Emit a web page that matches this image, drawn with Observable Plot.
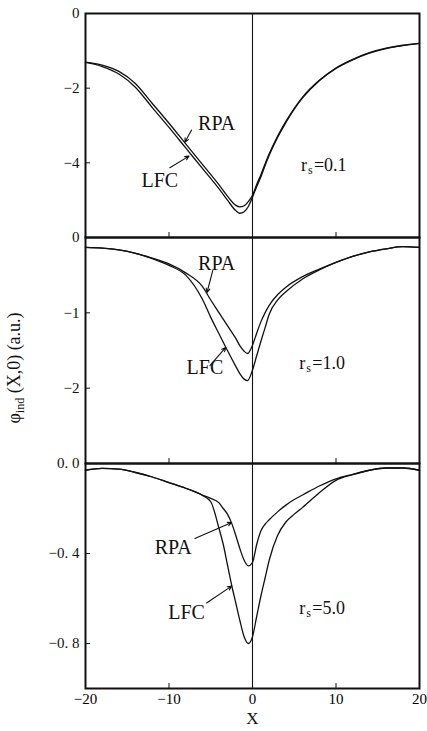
<!DOCTYPE html>
<html><head><meta charset="utf-8">
<script src="https://cdn.jsdelivr.net/npm/d3@7"></script>
<script src="https://cdn.jsdelivr.net/npm/@observablehq/plot@0.6"></script>
<style>
body{margin:0;background:#fff;}
#chart{position:relative;width:427px;height:731px;}
#chart svg{position:absolute;left:0;top:0;overflow:visible;background:transparent;}
#chart svg text{font-family:'Liberation Serif','DejaVu Serif',serif !important;}
</style></head><body><div id="chart"></div>
<script>
// ---------- data ----------
const xTicksInner = [-10, 10];
const xTicksBottom = [-20, -10, 0, 10, 20];

// panel 1 : rs = 0.1
const x1   = [-20,-18,-16,-14,-12,-10,-8,-6,-4,-3,-2,-1.5,-1,-0.5,0,0.5,1,1.5,2,3,4,5,6,8,10,12,14,16,18,20];
const rpa1 = [-1.30,-1.38,-1.55,-1.88,-2.41,-2.94,-3.49,-4.04,-4.59,-4.89,-5.14,-5.18,-5.15,-5.04,-4.87,-4.58,-4.32,-4.03,-3.76,-3.29,-2.89,-2.54,-2.24,-1.79,-1.46,-1.23,-1.05,-0.93,-0.85,-0.80];
const lfc1 = [-1.31,-1.42,-1.62,-1.98,-2.52,-3.05,-3.60,-4.15,-4.70,-5.00,-5.28,-5.35,-5.31,-5.17,-4.92,-4.64,-4.38,-4.08,-3.80,-3.32,-2.92,-2.56,-2.26,-1.80,-1.47,-1.24,-1.06,-0.94,-0.86,-0.80];
const y1Ticks = [0, -2, -4];
const y1Domain = [-6, 0];
const labels1 = [{t:"RPA", x:-4.3, y:-2.95}, {t:"LFC", x:-11.1, y:-4.47}];
const arrows1 = [{x1:-7.3, y1:-3.12, x2:-8.1, y2:-3.45}, {x1:-9.9, y1:-4.13, x2:-7.6, y2:-3.82}];
const rs1 = {x:5.8, y:-4.07, v:"=0.1"};

// panel 2 : rs = 1.0
const x2   = [-20,-18,-16,-14,-12,-10,-8,-6,-5,-4,-3,-2,-1.5,-1,-0.6,0,0.5,1,1.5,2,3,4,6,8,10,12,14,16,18,20];
const rpa2 = [-0.13,-0.14,-0.165,-0.21,-0.275,-0.35,-0.47,-0.65,-0.83,-1.00,-1.17,-1.34,-1.44,-1.51,-1.54,-1.43,-1.27,-1.12,-1.00,-0.90,-0.76,-0.66,-0.52,-0.42,-0.33,-0.25,-0.19,-0.15,-0.12,-0.13];
const lfc2 = [-0.13,-0.14,-0.165,-0.21,-0.28,-0.37,-0.50,-0.82,-1.06,-1.28,-1.50,-1.71,-1.81,-1.88,-1.90,-1.76,-1.57,-1.38,-1.20,-1.02,-0.83,-0.72,-0.55,-0.43,-0.33,-0.25,-0.19,-0.15,-0.12,-0.13];
const y2Ticks = [0, -1, -2];
const y2Domain = [-3, 0];
const labels2 = [{t:"RPA", x:-4.3, y:-0.345}, {t:"LFC", x:-5.7, y:-1.73}];
const arrows2 = [{x1:-4.76, y1:-0.44, x2:-5.45, y2:-0.73}, {x1:-5.1, y1:-1.70, x2:-3.2, y2:-1.46}];
const rs2 = {x:5.6, y:-1.67, v:"=1.0"};

// panel 3 : rs = 5.0
const x3   = [-20,-18,-16,-14,-12,-10,-8,-6,-5,-4,-3.5,-3,-2.5,-2,-1.5,-1,-0.5,0,0.5,1,1.5,2,3,4,5,6,8,10,12,14,16,18,20];
const rpa3 = [-0.03,-0.022,-0.025,-0.04,-0.06,-0.085,-0.11,-0.14,-0.155,-0.175,-0.20,-0.225,-0.265,-0.32,-0.38,-0.43,-0.455,-0.44,-0.36,-0.30,-0.27,-0.25,-0.215,-0.185,-0.16,-0.14,-0.10,-0.068,-0.048,-0.03,-0.02,-0.02,-0.03];
const lfc3 = [-0.03,-0.022,-0.025,-0.04,-0.06,-0.085,-0.11,-0.142,-0.17,-0.29,-0.36,-0.45,-0.54,-0.62,-0.70,-0.77,-0.80,-0.77,-0.68,-0.59,-0.51,-0.43,-0.32,-0.26,-0.225,-0.195,-0.13,-0.075,-0.05,-0.03,-0.02,-0.02,-0.03];
const y3Ticks = [0, -0.4, -0.8];
const y3Domain = [-1, 0];
const labels3 = [{t:"RPA", x:-9.5, y:-0.373}, {t:"LFC", x:-7.9, y:-0.662}];
const arrows3 = [{x1:-6.9, y1:-0.333, x2:-2.5, y2:-0.262}, {x1:-5.5, y1:-0.62, x2:-2.5, y2:-0.545}];
const rs3 = {x:5.6, y:-0.645, v:"=5.0"};

// ---------- drawing ----------
const W = 427, H = 731;
const serif = "Liberation Serif";
const ink = "#111";
const minus = s => s.replace("-", "\u2212");

function panel({xs, rpa, lfc, domain, top, bottom, yTicks, yFmt, labels, arrows, rs, last}) {
  const rows = xs.flatMap((x, i) => [{x, y: rpa[i], s: "RPA"}, {x, y: lfc[i], s: "LFC"}]);
  const marks = [
    Plot.ruleX([0], {stroke: ink, strokeWidth: 1.1}),
    Plot.line(rows, {x: "x", y: "y", z: "s", curve: "monotone-x", stroke: ink, strokeWidth: 1.3}),
    Plot.frame({stroke: ink, strokeWidth: 2}),
    Plot.axisY({ticks: yTicks, tickFormat: yFmt, tickSize: -5, tickPadding: 11, fontSize: 15, fontFamily: serif, label: null, stroke: ink, color: ink}),
    last
      ? Plot.axisX({ticks: xTicksBottom, tickFormat: d => minus(String(d)), tickSize: -5, tickPadding: 10, fontSize: 15, fontFamily: serif, label: null, stroke: ink})
      : Plot.axisX({ticks: xTicksInner, tickFormat: () => "", tickSize: -5, label: null, stroke: ink}),
    Plot.text(labels, {x: "x", y: "y", text: "t", fontSize: 20, fontFamily: serif, fill: ink}),
    Plot.arrow(arrows, {x1: "x1", y1: "y1", x2: "x2", y2: "y2", stroke: ink, strokeWidth: 1.1, headLength: 6, headAngle: 50}),
    Plot.text([rs], {x: "x", y: "y", text: () => "r", textAnchor: "start", fontSize: 18, fontFamily: serif, fill: ink}),
    Plot.text([rs], {x: "x", y: "y", text: () => "s", textAnchor: "start", dx: 7, dy: 5, fontSize: 12, fontFamily: serif, fill: ink}),
    Plot.text([rs], {x: "x", y: "y", text: "v", textAnchor: "start", dx: 13, fontSize: 18, fontFamily: serif, fill: ink})
  ];
  if (last) marks.push(Plot.text(["X"], {frameAnchor: "bottom", dy: 35, fontSize: 17, fontFamily: serif, fill: ink}));
  return Plot.plot({
    width: W, height: H,
    marginTop: top, marginBottom: H - bottom, marginLeft: 85, marginRight: 8,
    x: {domain: [-20, 20]},
    y: {domain},
    style: {background: "transparent", overflow: "visible"},
    marks
  });
}

const chart = document.getElementById("chart");
chart.append(panel({xs: x1, rpa: rpa1, lfc: lfc1, domain: y1Domain, top: 13, bottom: 237, yTicks: y1Ticks,
  yFmt: d => minus(String(d)), labels: labels1, arrows: arrows1, rs: rs1}));
chart.append(panel({xs: x2, rpa: rpa2, lfc: lfc2, domain: y2Domain, top: 237, bottom: 463, yTicks: y2Ticks,
  yFmt: d => minus(String(d)), labels: labels2, arrows: arrows2, rs: rs2}));
chart.append(panel({xs: x3, rpa: rpa3, lfc: lfc3, domain: y3Domain, top: 463, bottom: 688, yTicks: y3Ticks,
  yFmt: d => minus(d.toFixed(1).replace(".", ". ")), labels: labels3, arrows: arrows3, rs: rs3, last: true}));

// y-axis title
const ov = d3.select(chart).append("svg").attr("width", W).attr("height", H);
const t = ov.append("text")
  .attr("transform", "translate(20,368) rotate(-90)")
  .attr("text-anchor", "middle")
  .attr("font-size", 18).attr("fill", ink);
t.append("tspan").text("\u03C6");
t.append("tspan").attr("font-size", 12).attr("dy", 4).text("ind");
t.append("tspan").attr("dy", -4).text(" (X,0) (a.u.)");
</script></body></html>
